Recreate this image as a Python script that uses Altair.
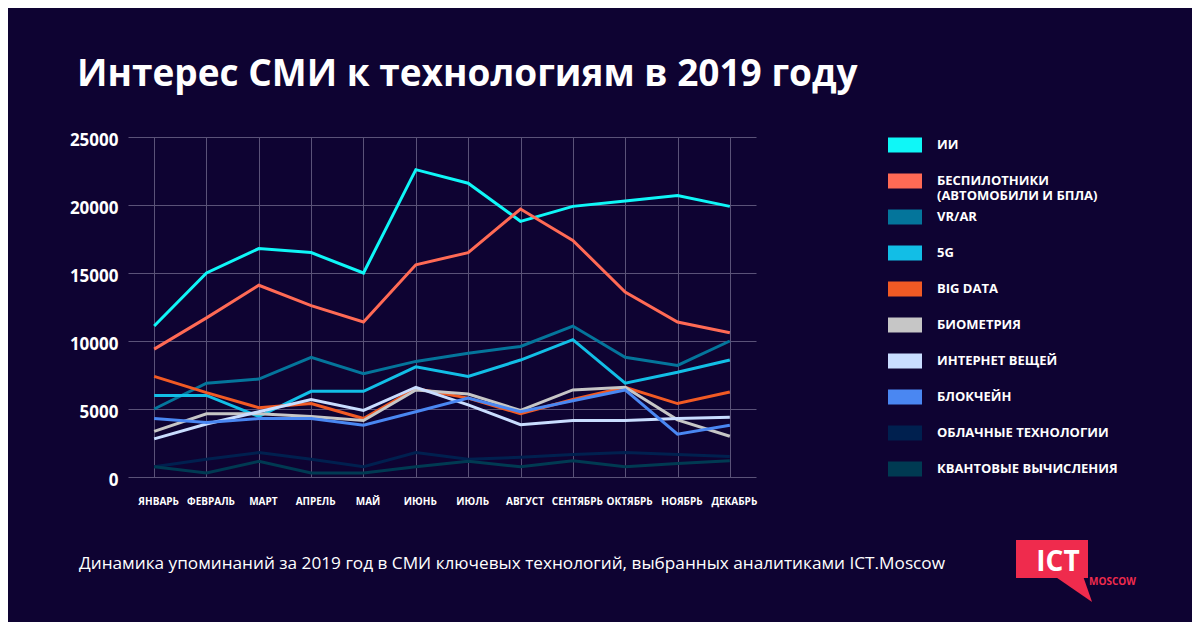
import altair as alt
import pandas as pd

months = ["ЯНВАРЬ", "ФЕВРАЛЬ", "МАРТ", "АПРЕЛЬ", "МАЙ", "ИЮНЬ",
          "ИЮЛЬ", "АВГУСТ", "СЕНТЯБРЬ", "ОКТЯБРЬ", "НОЯБРЬ", "ДЕКАБРЬ"]

series_names = ["ИИ", "БЕСПИЛОТНИКИ|(АВТОМОБИЛИ И БПЛА)", "VR/AR", "5G", "BIG DATA",
                "БИОМЕТРИЯ", "ИНТЕРНЕТ ВЕЩЕЙ", "БЛОКЧЕЙН", "ОБЛАЧНЫЕ ТЕХНОЛОГИИ",
                "КВАНТОВЫЕ ВЫЧИСЛЕНИЯ"]
series_colors = ["#0FF7F7", "#FF6A55", "#04759B", "#12BEE6", "#F15A24",
                 "#C6C6C6", "#C9DDFF", "#4A87F2", "#00204F", "#003A52"]

ai = [11100, 15000, 16800, 16500, 15000, 22600, 21600, 18800, 19900, 20300, 20700, 19900]
drones = [9400, 11700, 14100, 12600, 11400, 15600, 16500, 19700, 17400, 13600, 11400, 10600]
vrar = [5000, 6900, 7200, 8800, 7600, 8500, 9100, 9600, 11100, 8800, 8200, 10000]
g5 = [6000, 6000, 4450, 6300, 6300, 8100, 7400, 8600, 10100, 6900, 7700, 8600]
bigdata = [7400, 6200, 5100, 5400, 4300, 6500, 5800, 4650, 5700, 6600, 5400, 6250]
biometrics = [3350, 4650, 4650, 4450, 4150, 6400, 6100, 4900, 6400, 6600, 4200, 3000]
iot = [2800, 3900, 4800, 5700, 4900, 6600, 5300, 3850, 4150, 4150, 4300, 4400]
blockchain = [4300, 4000, 4300, 4300, 3800, 4800, 5800, 4800, 5600, 6400, 3150, 3800]
cloud = [750, 1300, 1800, 1300, 750, 1800, 1300, 1450, 1650, 1800, 1650, 1500]
quantum = [750, 300, 1150, 300, 300, 750, 1150, 750, 1200, 750, 1000, 1200]

title_text = "Интерес СМИ к технологиям в 2019 году"
footer_text = "Динамика упоминаний за 2019 год в СМИ ключевых технологий, выбранных аналитиками ICT.Moscow"

all_values = [ai, drones, vrar, g5, bigdata, biometrics, iot, blockchain, cloud, quantum]
rows = []
for name, vals in zip(series_names, all_values):
    for m, v in zip(months, vals):
        rows.append({"month": m, "value": v, "series": name})
df = pd.DataFrame(rows)

BG = "#0E0332"
GRID = "#5A5278"
FONT = "Open Sans"

# legend swatch: a stack of thin horizontal strokes that together read as a filled bar
stripe_ys = [-0.5, -0.375, -0.25, -0.125, 0, 0.125, 0.25, 0.375, 0.5]
swatch_path = "".join(f"M-1.3077,{yy}L1.3077,{yy}" for yy in stripe_ys)

# every label gets two lines so all legend entries have the same height
label_expr = "split(indexof(datum.label, '|') >= 0 ? datum.label : datum.label + '|', '|')"

lines = alt.Chart(df).mark_line(strokeWidth=3).encode(
    x=alt.X("month:N", sort=months, title=None,
            scale=alt.Scale(type="point", padding=0.5),
            axis=alt.Axis(grid=True, gridColor=GRID, gridWidth=1, domain=False, ticks=False,
                          labelAngle=0, labelFont=FONT, labelFontSize=10, labelFontWeight="bold",
                          labelColor="white", labelPadding=19, labelOffset=4, labelBaseline="top")),
    y=alt.Y("value:Q", title=None,
            scale=alt.Scale(domain=[0, 25000], nice=False),
            axis=alt.Axis(values=[0, 5000, 10000, 15000, 20000, 25000], format="d",
                          grid=True, gridColor=GRID, gridWidth=1, domain=False, ticks=False,
                          labelFont=FONT, labelFontSize=17, labelFontWeight="bold",
                          labelColor="white", labelPadding=10, labelOffset=3)),
    color=alt.Color("series:N", sort=series_names,
                    scale=alt.Scale(domain=series_names, range=series_colors),
                    legend=alt.Legend(title=None, orient="none", direction="vertical",
                                      legendX=763, legendY=-6, padding=0,
                                      symbolType=swatch_path, symbolSize=676,
                                      symbolStrokeWidth=2, symbolOpacity=1,
                                      labelFont=FONT, labelFontSize=13, labelFontWeight="bold",
                                      labelColor="white", labelOffset=18, labelLimit=400,
                                      rowPadding=0,
                                      labelExpr=label_expr)),
    order=alt.Order("series:N")
)

title = alt.Chart(pd.DataFrame({"t": [title_text]})).mark_text(
    font=FONT, fontSize=37, fontWeight="bold", color="white", align="left",
    baseline="alphabetic"
).encode(text="t:N", x=alt.value(-51), y=alt.value(-51))

footer = alt.Chart(pd.DataFrame({"t": [footer_text]})).mark_text(
    font=FONT, fontSize=17.2, color="white", align="left", baseline="alphabetic"
).encode(text="t:N", x=alt.value(-49), y=alt.value(432))

logo_box = alt.Chart(pd.DataFrame({"k": ["logo"]})).mark_rect(color="#EF2B4D").encode(
    x=alt.value(888), x2=alt.value(960), y=alt.value(403), y2=alt.value(441))

logo_tail = alt.Chart(pd.DataFrame({"k": ["tail"]})).mark_point(
    shape="M-0.98,-0.67L0.51,-0.67L0.98,0.67Z", filled=True, color="#EF2B4D",
    opacity=1, size=1849, strokeWidth=0
).encode(x=alt.value(943), y=alt.value(450.5))

logo_ict = alt.Chart(pd.DataFrame({"t": ["ICT"]})).mark_text(
    font=FONT, fontSize=28, fontWeight="bold", color="white", align="center",
    baseline="alphabetic"
).encode(text="t:N", x=alt.value(930), y=alt.value(434))

logo_moscow = alt.Chart(pd.DataFrame({"t": ["MOSCOW"]})).mark_text(
    font=FONT, fontSize=10, fontWeight="bold", color="#EF2B4D", align="left",
    baseline="alphabetic"
).encode(text="t:N", x=alt.value(961), y=alt.value(448))

chart = alt.layer(lines, title, footer, logo_box, logo_tail, logo_ict, logo_moscow).properties(
    width=628, height=340,
    autosize=alt.AutoSizeParams(type="none"),
    padding={"left": 120, "top": 129, "right": 436, "bottom": 145},
    background=BG,
).configure_view(stroke=None)

chart.save("out.html", embed_options={"renderer": "svg", "actions": False})
